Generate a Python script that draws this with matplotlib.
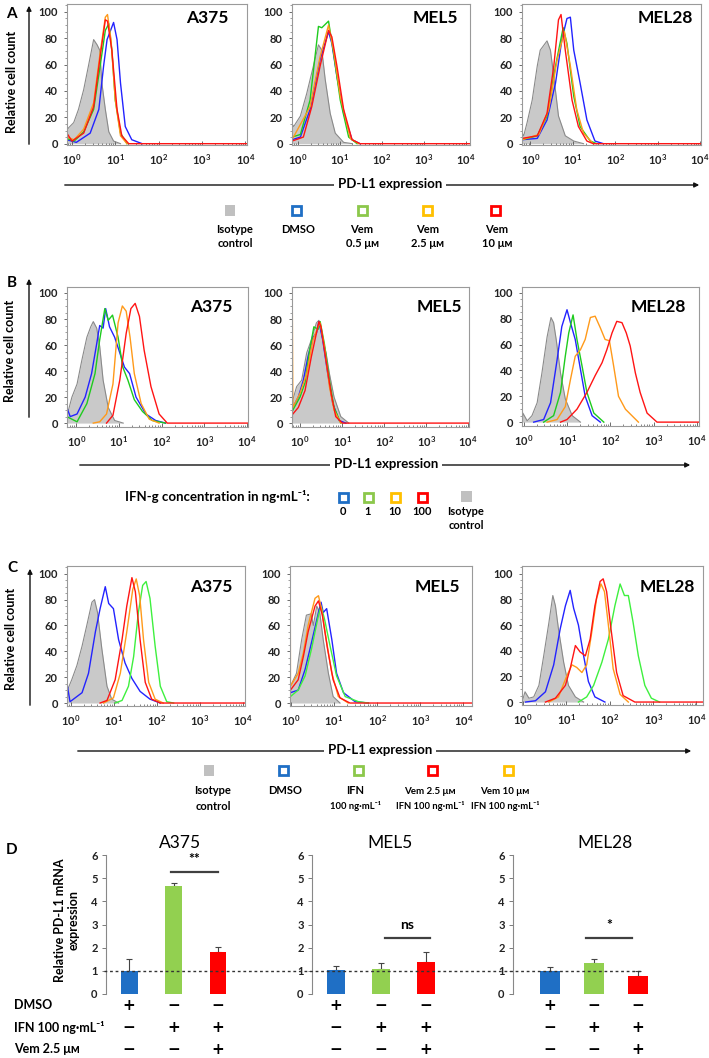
import numpy as np
import matplotlib
matplotlib.use("Agg")
import matplotlib.pyplot as plt
from matplotlib import transforms
from matplotlib.lines import Line2D
from matplotlib.patches import FancyArrowPatch, Rectangle
from matplotlib.ticker import FixedLocator, LogLocator, MultipleLocator, NullFormatter

plt.rcParams["font.family"] = ["Lato", "DejaVu Sans"]
plt.rcParams["font.weight"] = "bold"

# histogram curves: (log10 PD-L1 intensity, relative cell count)
A_A375 = {
    "iso": ([-0.12, -0.08, 0.04, 0.15, 0.27, 0.38, 0.5, 0.58, 0.64, 0.69, 0.77, 0.85, 0.96, 1.12],
            [10, 12, 16, 26, 41, 59, 79, 75, 71, 46, 26, 9, 2, 0]),
    "dmso": ([-0.12, 0.1, 0.42, 0.62, 0.73, 0.81, 0.88, 0.96, 1.04, 1.12, 1.23, 1.38, 1.62],
             [3, 1, 8, 26, 59, 79, 85, 92, 79, 46, 13, 3, 0]),
    "v05": ([-0.12, 0.05, 0.27, 0.5, 0.65, 0.77, 0.85, 0.92, 1.0, 1.12, 1.27],
            [4, 2, 9, 26, 59, 86, 91, 71, 33, 8, 0]),
    "v25": ([-0.12, 0.05, 0.27, 0.5, 0.65, 0.77, 0.82, 0.9, 1.0, 1.12, 1.27],
            [5, 3, 11, 31, 69, 96, 98, 79, 33, 6, 0]),
    "v10": ([-0.12, 0.0, 0.27, 0.5, 0.65, 0.77, 0.82, 0.92, 1.04, 1.15, 1.31, 4.1],
            [8, 2, 8, 28, 66, 94, 93, 71, 26, 6, 0, 0]),
}
A_MEL5 = {
    "iso": ([-0.14, -0.1, 0.06, 0.21, 0.37, 0.49, 0.57, 0.65, 0.77, 0.89, 1.09, 1.3],
            [15, 13, 21, 38, 59, 75, 71, 49, 23, 8, 1, 0]),
    "dmso": ([-0.14, 0.06, 0.29, 0.53, 0.73, 0.81, 0.93, 1.09, 1.29, 1.48],
             [3, 5, 26, 64, 85, 76, 51, 23, 3, 0]),
    "v05": ([-0.14, 0.06, 0.29, 0.49, 0.57, 0.73, 0.85, 1.01, 1.21, 1.41],
            [5, 7, 33, 89, 88, 93, 69, 33, 5, 0]),
    "v25": ([-0.14, 0.29, 0.53, 0.73, 0.85, 1.01, 1.25, 1.45],
            [3, 28, 66, 90, 71, 36, 4, 0]),
    "v10": ([-0.14, 0.13, 0.33, 0.53, 0.73, 0.81, 0.93, 1.09, 1.29, 1.48, 4.1],
            [2, 5, 28, 59, 86, 81, 59, 26, 3, 0, 0]),
}
A_MEL28 = {
    "iso": ([-0.2, -0.16, -0.08, 0.04, 0.16, 0.23, 0.39, 0.47, 0.55, 0.66, 0.82, 1.02, 1.25],
            [8, 6, 16, 33, 59, 71, 78, 71, 51, 21, 6, 2, 0]),
    "dmso": ([-0.2, 0.16, 0.39, 0.59, 0.74, 0.86, 0.94, 1.02, 1.17, 1.33, 1.52, 1.72],
             [3, 4, 18, 46, 79, 95, 96, 71, 46, 18, 2, 0]),
    "v05": ([-0.2, 0.16, 0.39, 0.59, 0.77, 0.86, 1.02, 1.17, 1.41, 1.56],
            [3, 6, 21, 59, 88, 76, 36, 13, 2, 0]),
    "v25": ([-0.2, 0.2, 0.43, 0.63, 0.8, 0.94, 1.09, 1.25, 1.48],
            [3, 7, 26, 64, 85, 59, 26, 8, 0]),
    "v10": ([-0.2, 0.16, 0.39, 0.55, 0.66, 0.72, 0.82, 0.98, 1.13, 1.33, 1.48, 4.1],
            [4, 6, 23, 59, 94, 98, 71, 33, 13, 2, 0, 0]),
}

B_A375 = {
    "iso": ([-0.22, -0.18, -0.1, 0.02, 0.13, 0.25, 0.34, 0.4, 0.48, 0.55, 0.63, 0.75, 0.9, 1.1],
            [10, 10, 20, 30, 48, 66, 74, 78, 73, 59, 33, 12, 2, 0]),
    "i0": ([-0.22, -0.14, 0.02, 0.21, 0.36, 0.48, 0.55, 0.63, 0.69, 0.78, 0.9, 1.02, 1.13, 1.25,
            1.4, 1.63, 1.86, 2.09],
           [12, 5, 7, 20, 38, 61, 75, 73, 88, 74, 66, 54, 43, 38, 20, 7, 2, 0]),
    "i1": ([-0.22, 0.02, 0.25, 0.44, 0.55, 0.67, 0.75, 0.85, 0.98, 1.09, 1.21, 1.36, 1.55, 1.78, 2.09],
           [5, 1, 15, 38, 64, 88, 79, 83, 66, 43, 33, 18, 9, 2, 0]),
    "i10": ([0.4, 0.55, 0.71, 0.86, 0.98, 1.08, 1.17, 1.26, 1.36, 1.52, 1.71, 1.94],
            [0, 1, 7, 30, 77, 90, 86, 66, 38, 15, 3, 0]),
    "i100": ([0.71, 0.86, 1.02, 1.17, 1.28, 1.38, 1.48, 1.59, 1.75, 1.94, 2.13, 4.02],
             [0, 6, 33, 69, 88, 92, 82, 56, 28, 7, 0, 0]),
}
B_MEL5 = {
    "iso": ([-0.18, -0.17, -0.08, 0.04, 0.16, 0.27, 0.39, 0.45, 0.53, 0.62, 0.7, 0.81, 0.97, 1.16],
            [0, 18, 28, 33, 54, 64, 77, 79, 66, 54, 38, 20, 5, 0]),
    "i0": ([-0.17, -0.04, 0.08, 0.19, 0.31, 0.39, 0.45, 0.54, 0.66, 0.78, 0.93, 1.09],
           [12, 20, 33, 51, 66, 69, 78, 64, 38, 15, 2, 0]),
    "i1": ([-0.17, 0.0, 0.12, 0.23, 0.33, 0.43, 0.48, 0.58, 0.7, 0.81, 0.97],
           [10, 20, 31, 56, 74, 72, 78, 61, 33, 12, 0]),
    "i10": ([-0.185, -0.185, -0.17, 0.0, 0.16, 0.31, 0.43, 0.48, 0.58, 0.7, 0.81, 0.97],
            [0, 100, 12, 23, 38, 64, 74, 77, 59, 28, 10, 0]),
    "i100": ([-0.17, -0.04, 0.12, 0.27, 0.39, 0.45, 0.5, 0.62, 0.74, 0.85, 1.01, 4.02],
             [7, 12, 25, 51, 69, 78, 74, 48, 23, 5, 0, 0]),
}
B_MEL28 = {
    "iso": ([-0.03, -0.02, 0.08, 0.19, 0.31, 0.42, 0.54, 0.63, 0.69, 0.75, 0.85, 0.96, 1.12, 1.31],
            [0, 7, 1, 5, 15, 38, 66, 81, 77, 64, 38, 18, 5, 0]),
    "i0": ([0.23, 0.46, 0.62, 0.77, 0.88, 1.0, 1.08, 1.19, 1.31, 1.42, 1.58, 1.77],
           [0, 2, 15, 48, 74, 87, 77, 64, 41, 20, 5, 0]),
    "i1": ([0.46, 0.69, 0.85, 0.96, 1.04, 1.14, 1.23, 1.35, 1.46, 1.62, 1.85],
           [0, 5, 23, 51, 69, 83, 64, 43, 23, 7, 0]),
    "i10": ([0.54, 0.77, 0.96, 1.08, 1.19, 1.31, 1.42, 1.54, 1.65, 1.77, 1.88, 1.98, 2.08, 2.19,
             2.35, 2.5, 2.65],
            [0, 2, 12, 33, 51, 56, 64, 81, 82, 73, 64, 63, 43, 20, 10, 5, 0]),
    "i100": ([0.85, 1.0, 1.23, 1.46, 1.65, 1.81, 1.92, 2.04, 2.15, 2.27, 2.37, 2.46, 2.58, 2.69,
              2.85, 3.08, 4.05],
             [0, 2, 10, 23, 36, 46, 56, 69, 78, 77, 69, 59, 38, 23, 7, 0, 0]),
}

C_A375 = {
    "iso": ([-0.09, -0.08, 0.02, 0.14, 0.26, 0.37, 0.49, 0.55, 0.62, 0.72, 0.84, 0.95, 1.11],
            [10, 10, 18, 29, 44, 60, 78, 80, 70, 42, 13, 3, 0]),
    "dmso": ([-0.09, -0.02, 0.1, 0.26, 0.41, 0.57, 0.68, 0.8, 0.88, 0.99, 1.11, 1.26, 1.42, 1.61,
              1.84, 2.08],
             [15, 1, 4, 8, 23, 55, 73, 90, 77, 73, 49, 31, 19, 9, 3, 0]),
    "ifn": ([1.03, 1.19, 1.34, 1.46, 1.57, 1.67, 1.75, 1.84, 1.96, 2.08, 2.23, 2.39],
            [0, 2, 13, 36, 70, 91, 94, 81, 44, 13, 1, 0]),
    "vem10": ([0.76, 0.99, 1.15, 1.3, 1.44, 1.52, 1.6, 1.69, 1.81, 1.96, 2.15],
              [0, 4, 23, 55, 88, 96, 83, 49, 16, 3, 0]),
    "vem25": ([0.68, 0.84, 1.03, 1.19, 1.3, 1.42, 1.5, 1.61, 1.73, 1.88, 2.08, 4.05],
              [0, 2, 18, 49, 75, 97, 86, 49, 16, 3, 0, 0]),
}
C_MEL5 = {
    "iso": ([-0.02, -0.01, 0.13, 0.25, 0.36, 0.47, 0.52, 0.6, 0.67, 0.75, 0.87, 0.98, 1.14],
            [0, 13, 23, 49, 68, 69, 60, 75, 70, 49, 23, 5, 0]),
    "dmso": ([-0.01, 0.17, 0.33, 0.48, 0.64, 0.7, 0.75, 0.83, 0.95, 1.06, 1.22, 1.49, 1.8],
             [8, 10, 26, 47, 70, 78, 70, 73, 49, 23, 8, 1, 0]),
    "ifn": ([-0.01, 0.17, 0.33, 0.48, 0.64, 0.7, 0.78, 0.91, 1.06, 1.26, 1.57, 1.8],
            [5, 10, 21, 42, 68, 75, 65, 44, 21, 5, 1, 0]),
    "vem10": ([-0.015, -0.015, -0.01, 0.17, 0.29, 0.4, 0.56, 0.64, 0.71, 0.83, 0.95, 1.1, 1.33],
              [0, 100, 13, 23, 39, 60, 81, 83, 73, 47, 23, 5, 0]),
    "vem25": ([-0.01, 0.17, 0.29, 0.4, 0.56, 0.64, 0.73, 0.85, 0.98, 1.14, 1.37, 4.2],
              [10, 18, 36, 55, 75, 79, 68, 42, 18, 4, 0, 0]),
}
C_MEL28 = {
    "iso": ([-0.02, 0.05, 0.14, 0.25, 0.37, 0.48, 0.6, 0.69, 0.75, 0.82, 0.94, 1.05, 1.21, 1.4],
            [0, 8, 3, 4, 13, 36, 62, 83, 75, 57, 31, 13, 4, 0]),
    "dmso": ([0.06, 0.29, 0.52, 0.71, 0.86, 0.98, 1.09, 1.17, 1.28, 1.4, 1.51, 1.66, 1.89],
             [0, 1, 8, 29, 57, 75, 87, 73, 60, 36, 16, 4, 0]),
    "ifn": ([1.28, 1.47, 1.63, 1.82, 1.97, 2.12, 2.24, 2.34, 2.43, 2.54, 2.66, 2.81, 2.96, 3.15],
            [0, 4, 13, 31, 49, 75, 92, 83, 83, 62, 36, 13, 3, 0]),
    "vem10": ([0.6, 0.82, 1.02, 1.13, 1.24, 1.36, 1.47, 1.59, 1.7, 1.8, 1.88, 1.97, 2.08, 2.24, 2.43],
              [0, 4, 21, 29, 27, 23, 29, 55, 81, 92, 86, 60, 26, 6, 0]),
    "vem25": ([0.52, 0.75, 0.98, 1.09, 1.21, 1.32, 1.44, 1.55, 1.66, 1.78, 1.85, 1.93, 2.03, 2.16,
               2.31, 2.58, 4.15],
              [0, 3, 13, 26, 44, 39, 36, 49, 75, 94, 96, 86, 57, 23, 5, 0, 0]),
}

CELL_LINES = ["A375", "MEL5", "MEL28"]
X_TICK_EXP = [0, 1, 2, 3, 4]

# qPCR (panel D)
D_A375 = [1.0, 4.65, 1.83]
D_A375_ERR = [0.5, 0.12, 0.2]
D_MEL5 = [1.02, 1.08, 1.4]
D_MEL5_ERR = [0.18, 0.27, 0.4]
D_MEL28 = [0.98, 1.35, 0.78]
D_MEL28_ERR = [0.2, 0.15, 0.2]
D_SIG = ["**", "ns", "*"]
D_SIG_Y = [5.25, 2.4, 2.4]
ROW_LABELS = ["DMSO", "IFN 100 ng·mL⁻¹", "Vem 2.5 μᴍ"]
ROW_DMSO = ["+", "−", "−"]
ROW_IFN = ["−", "+", "+"]
ROW_VEM = ["−", "−", "+"]

BLUE, GREEN, ORANGE, RED = "#2323ff", "#1ecb1e", "#ff9a1a", "#ff1414"
SQ_BLUE, SQ_GREEN, SQ_ORANGE, SQ_RED, SQ_GREY = "#1f6fc5", "#8cc84b", "#ffc000", "#ff0000", "#c0c0c0"
BAR_COLORS = ["#1f6fc5", "#92d050", "#ff0000"]

W, H = 709, 1058
fig = plt.figure(figsize=(W / 100, H / 100), dpi=100)


def fx(x):
    return x / W


def fy(y):
    return 1 - y / H


def add_ax(l, t, r, b):
    return fig.add_axes([fx(l), fy(b), fx(r - l), (b - t) / H])


def text_px(x, y, s, **kw):
    kw.setdefault("ha", "center")
    kw.setdefault("va", "center")
    fig.text(fx(x), fy(y), s, **kw)


def arrow_px(x0, y0, x1, y1):
    fig.add_artist(FancyArrowPatch((fx(x0), fy(y0)), (fx(x1), fy(y1)), transform=fig.transFigure,
                                   arrowstyle="-|>", mutation_scale=7, lw=1.0, color="#111111"))


def square_px(x, y, color, filled):
    s = 11
    if filled:
        r = Rectangle((fx(x - s / 2), fy(y + s / 2)), s / W, s / H, transform=fig.transFigure,
                      facecolor=color, edgecolor=color, lw=0)
    else:
        r = Rectangle((fx(x - s / 2 + 1), fy(y + s / 2 - 1)), (s - 2) / W, (s - 2) / H,
                      transform=fig.transFigure, facecolor="white", edgecolor=color, lw=2.0)
    fig.add_artist(r)


def hist_cell(ax, curves, order, colors, xlim, ylim):
    lx, ly = curves["iso"]
    xs = 10 ** np.array(lx)
    ax.fill_between(xs, ly, 0, color="#c9c9c9", lw=0)
    ax.plot(xs, ly, color="#8a8a8a", lw=0.8)
    for key in order:
        lx, ly = curves[key]
        ax.plot(10 ** np.array(lx), ly, color=colors[key], lw=1.0)
    ax.set_xscale("log")
    ax.xaxis.set_major_locator(FixedLocator([10.0 ** e for e in X_TICK_EXP]))
    ax.set_xticklabels([rf"$\mathregular{{10^{{{e}}}}}$" for e in X_TICK_EXP])
    ax.xaxis.set_minor_locator(LogLocator(base=10, subs=np.arange(2, 10), numticks=20))
    ax.xaxis.set_minor_formatter(NullFormatter())
    ax.set_xlim(10 ** xlim[0], 10 ** xlim[1])
    ax.set_ylim(*ylim)
    ax.yaxis.set_major_locator(MultipleLocator(20))
    ax.yaxis.set_minor_locator(MultipleLocator(5))
    ax.tick_params(axis="x", which="major", direction="in", length=3, width=0.6, pad=5,
                   labelsize=8, colors="#555555", labelcolor="#222222")
    ax.tick_params(axis="x", which="minor", direction="in", length=1.5, width=0.5, colors="#555555")
    ax.tick_params(axis="y", which="major", direction="out", length=2.5, width=0.6, pad=4,
                   labelsize=8, colors="#555555", labelcolor="#222222")
    ax.tick_params(axis="y", which="minor", direction="out", length=1.2, width=0.5, colors="#777777")
    for lab in ax.get_xticklabels() + ax.get_yticklabels():
        lab.set_fontweight("bold")
    for sp in ax.spines.values():
        sp.set_color("#9a9a9a")
        sp.set_linewidth(0.8)


# ---------------- A ----------------
A_ORDER = ["dmso", "v05", "v25", "v10"]
A_COL = {"dmso": BLUE, "v05": GREEN, "v25": ORANGE, "v10": RED}
a_boxes = [(67, 4, 247, 145), (292, 4, 470, 145), (522, 4, 701, 145)]
a_xlims = [(-0.115, 4.04), (-0.14, 4.1), (-0.2, 4.02)]
a_titles = [(228, 18), (458, 18), (693, 18)]
for cur, box, xl, tt, name in zip([A_A375, A_MEL5, A_MEL28], a_boxes, a_xlims, a_titles, CELL_LINES):
    ax = add_ax(*box)
    hist_cell(ax, cur, A_ORDER, A_COL, xl, (-1, 106))
    text_px(tt[0], tt[1], name, ha="right", fontsize=12.5, fontweight="bold")
text_px(11, 14, "A", fontsize=11, fontweight="bold")
text_px(12, 82, "Relative cell count", rotation=90, fontsize=9, fontweight="bold")
arrow_px(29, 147, 29, 3)
arrow_px(62, 185, 702, 185)
text_px(390, 184, "PD-L1 expression", fontsize=9.5, fontweight="bold",
        bbox=dict(facecolor="white", edgecolor="none", pad=3))
leg_a = [(230, SQ_GREY, True, "Isotype\ncontrol", 235), (296, SQ_BLUE, False, "DMSO", 298),
         (362, SQ_GREEN, False, "Vem\n0.5 μᴍ", 362), (428, SQ_ORANGE, False, "Vem\n2.5 μᴍ", 428),
         (495, SQ_RED, False, "Vem\n10 μᴍ", 497)]
for x, c, filled, lab, lx in leg_a:
    square_px(x, 210, c, filled)
    text_px(lx, 224, lab, va="top", fontsize=8, fontweight="bold", linespacing=1.35)

# ---------------- B ----------------
B_ORDER = ["i0", "i1", "i10", "i100"]
B_COL = {"i0": BLUE, "i1": GREEN, "i10": ORANGE, "i100": RED}
b_boxes = [(67, 287, 248, 427), (292, 287, 469, 427), (522, 287, 699, 426)]
b_xlims = [(-0.215, 4.02), (-0.19, 4.02), (-0.04, 4.05)]
b_titles = [(232, 307), (462, 307), (686, 307)]
for cur, box, xl, tt, name in zip([B_A375, B_MEL5, B_MEL28], b_boxes, b_xlims, b_titles, CELL_LINES):
    ax = add_ax(*box)
    hist_cell(ax, cur, B_ORDER, B_COL, xl, (-3, 104.6))
    text_px(tt[0], tt[1], name, ha="right", fontsize=12.5, fontweight="bold")
text_px(12, 283, "B", fontsize=11, fontweight="bold")
text_px(10, 351, "Relative cell count", rotation=90, fontsize=9, fontweight="bold")
arrow_px(29, 420, 29, 276)
arrow_px(77, 465, 693, 465)
text_px(386, 464, "PD-L1 expression", fontsize=9.5, fontweight="bold",
        bbox=dict(facecolor="white", edgecolor="none", pad=3))
text_px(310, 497, "IFN-g concentration in ng·mL⁻¹:", ha="right", fontsize=9.5, fontweight="bold")
leg_b = [(343, SQ_BLUE, False, "0"), (368, SQ_GREEN, False, "1"), (395, SQ_ORANGE, False, "10"),
         (422, SQ_RED, False, "100"), (466, SQ_GREY, True, "Isotype\ncontrol")]
for x, c, filled, lab in leg_b:
    square_px(x, 497, c, filled)
    text_px(x, 506, lab, va="top", fontsize=8, fontweight="bold", linespacing=1.35)

# ---------------- C ----------------
C_ORDER = ["dmso", "ifn", "vem10", "vem25"]
C_COL = {"dmso": BLUE, "ifn": "#3ef03e", "vem10": ORANGE, "vem25": RED}
c_boxes = [(67, 566, 245, 706), (290, 566, 472, 706), (522, 566, 703, 705)]
c_xlims = [(-0.09, 4.05), (-0.02, 4.2), (-0.02, 4.15)]
c_titles = [(232, 587), (460, 587), (695, 587)]
for cur, box, xl, tt, name in zip([C_A375, C_MEL5, C_MEL28], c_boxes, c_xlims, c_titles, CELL_LINES):
    ax = add_ax(*box)
    hist_cell(ax, cur, C_ORDER, C_COL, xl, (-2.3, 106))
    text_px(tt[0], tt[1], name, ha="right", fontsize=12.5, fontweight="bold")
text_px(12, 568, "C", fontsize=11, fontweight="bold")
text_px(11, 639, "Relative cell count", rotation=90, fontsize=9, fontweight="bold")
arrow_px(30, 708, 30, 566)
arrow_px(75, 751, 694, 751)
text_px(380, 750, "PD-L1 expression", fontsize=9.5, fontweight="bold",
        bbox=dict(facecolor="white", edgecolor="none", pad=3))
leg_c = [(209, SQ_GREY, True, ("Isotype", "control"), 213), (283, SQ_BLUE, False, ("DMSO", ""), 285),
         (358, SQ_GREEN, False, ("IFN", "100 ng·mL⁻¹"), 355),
         (433, SQ_RED, False, ("Vem 2.5 μᴍ", "IFN 100 ng·mL⁻¹"), 430),
         (508, SQ_ORANGE, False, ("Vem 10 μᴍ", "IFN 100 ng·mL⁻¹"), 505)]
for x, c, filled, (l1, l2), lx in leg_c:
    square_px(x, 770, c, filled)
    text_px(lx, 791, l1, fontsize=8 if "μ" not in l1 else 7, fontweight="bold")
    text_px(lx, 806, l2, fontsize=8 if "ng" not in l2 else 6.8, fontweight="bold")

# ---------------- D ----------------
d_boxes = [(106, 855, 254, 994), (312, 855, 468, 994), (513, 855, 697, 994)]
d_xlims = [(-0.52, 2.81), (-0.53, 2.93), (-0.84, 3.34)]
d_width = [0.38, 0.4, 0.45]
d_sig_x = [(0.94, 2.0), (1.09, 2.09), (0.82, 1.86)]
d_axes = []
for i, (vals, errs) in enumerate([(D_A375, D_A375_ERR), (D_MEL5, D_MEL5_ERR), (D_MEL28, D_MEL28_ERR)]):
    ax = add_ax(*d_boxes[i])
    d_axes.append(ax)
    pos = np.arange(len(vals))
    ax.errorbar(pos, vals, yerr=[np.zeros(len(errs)), errs], fmt="none", ecolor="#444444",
                elinewidth=0.8, capsize=2, capthick=0.8, zorder=1)
    ax.bar(pos, vals, width=d_width[i], color=BAR_COLORS, zorder=2)
    ax.set_xlim(*d_xlims[i])
    ax.set_ylim(0, 6)
    ax.set_xticks([])
    ax.yaxis.set_major_locator(MultipleLocator(1))
    ax.tick_params(axis="y", direction="out", length=3, width=0.6, labelsize=8, pad=3,
                   colors="#666666", labelcolor="#222222")
    for lab in ax.get_yticklabels():
        lab.set_fontweight("bold")
    for s in ["top", "right", "bottom"]:
        ax.spines[s].set_visible(False)
    ax.spines["left"].set_color("#888888")
    ax.spines["left"].set_linewidth(0.8)
    ax.set_title(CELL_LINES[i], fontsize=12.5, fontweight="normal", pad=5)
    x0, x1 = d_sig_x[i]
    ax.plot([x0, x1], [D_SIG_Y[i], D_SIG_Y[i]], color="#404040", lw=1.6, clip_on=False)
    ax.text((x0 + x1) / 2, D_SIG_Y[i] + 0.3, D_SIG[i], ha="center", va="bottom", fontsize=10,
            fontweight="bold")
    tr = transforms.blended_transform_factory(ax.transData, fig.transFigure)
    for row, yy in zip([ROW_DMSO, ROW_IFN, ROW_VEM], [1005, 1028, 1049]):
        for p, s in zip(pos, row):
            ax.text(p, fy(yy), s, transform=tr, ha="center", va="center", fontsize=11,
                    fontweight="bold", family="DejaVu Sans")

# dotted reference line at 1 running through all three panels
tr_ref = transforms.blended_transform_factory(fig.transFigure, d_axes[0].transData)
fig.add_artist(Line2D([fx(104), fx(642)], [1, 1], transform=tr_ref, color="#333333", lw=1.0,
                      ls=(0, (2, 2))))

text_px(12, 850, "D", fontsize=11, fontweight="bold")
text_px(67, 920, "Relative PD-L1 mRNA\nexpression", rotation=90, fontsize=9, fontweight="bold",
        linespacing=1.15)
for lab, yy in zip(ROW_LABELS, [1005, 1028, 1049]):
    text_px(14, yy, lab, ha="left", fontsize=9, fontweight="bold")

fig.savefig("out.png", dpi=100)
